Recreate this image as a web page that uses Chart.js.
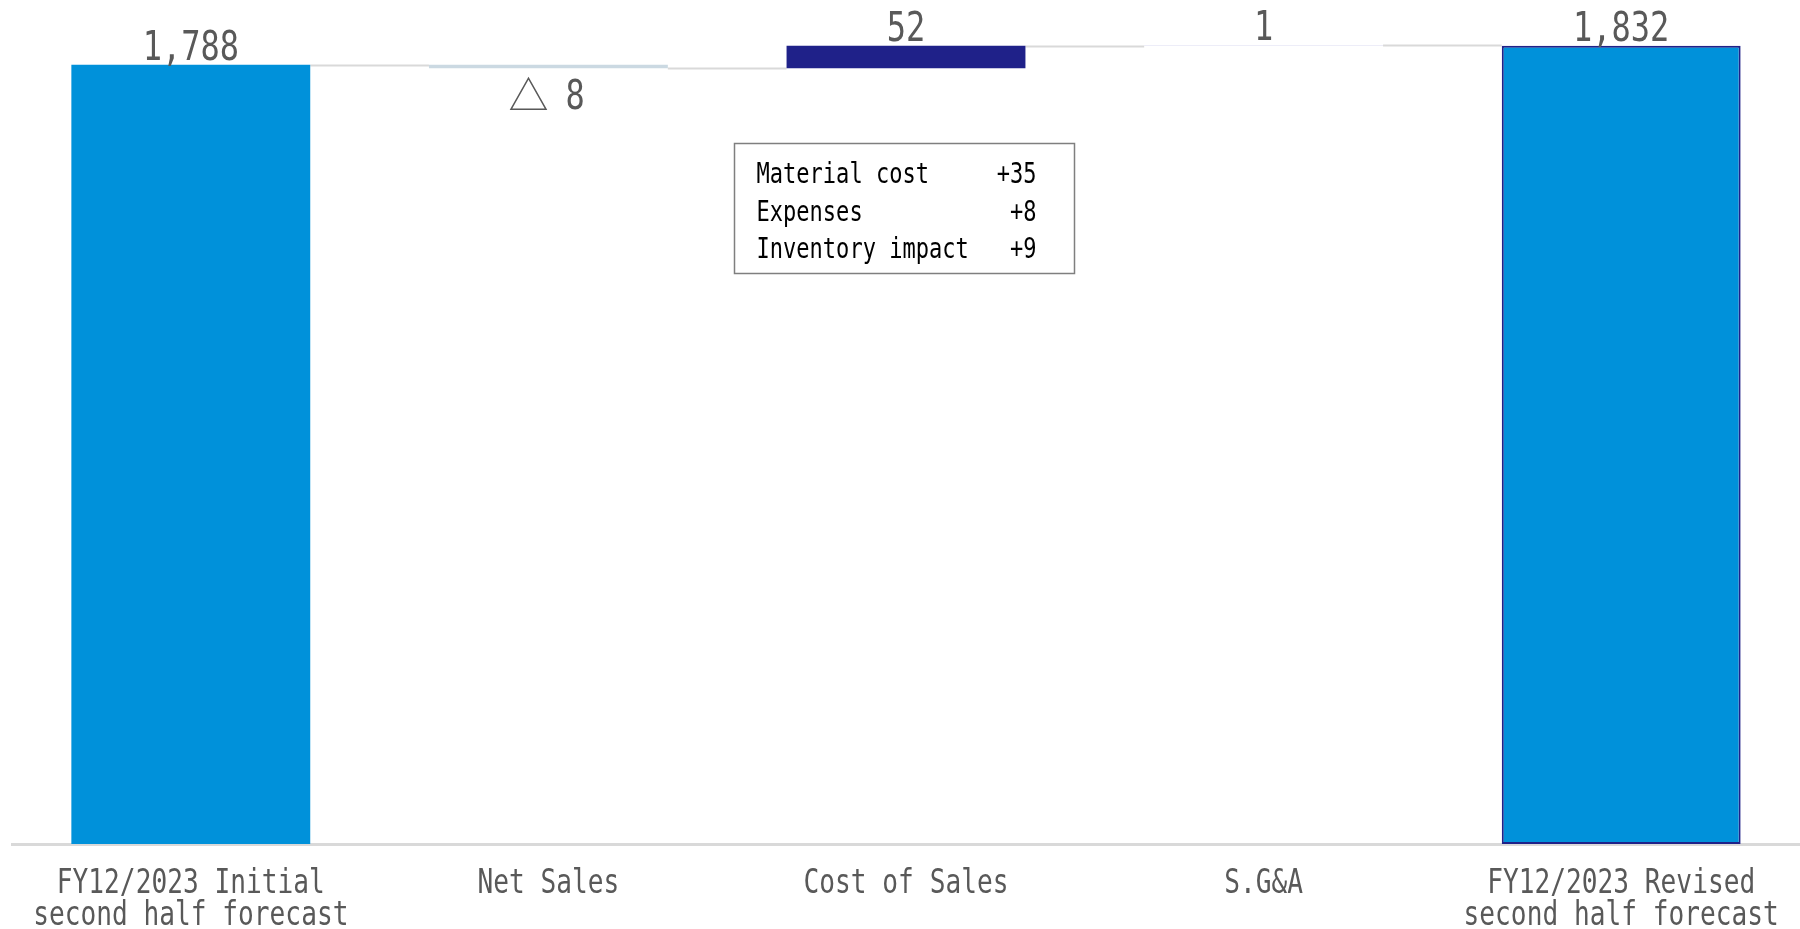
<!DOCTYPE html>
<html>
<head>
<meta charset="utf-8">
<title>Operating income bridge</title>
<script src="https://cdn.jsdelivr.net/npm/chart.js@4.4.1/dist/chart.umd.min.js"></script>
<style>
    html, body { margin: 0; padding: 0; background: #ffffff; }
    #wrap { width: 1800px; height: 929px; }
</style>
</head>
<body>
<div id="wrap"><canvas id="bridgeChart" width="1800" height="929"></canvas></div>
<script>
// Bridge data: totals are absolute, the steps in between are changes
const CATEGORIES = [
    ['FY12/2023 Initial', 'second half forecast'],
    ['Net Sales'],
    ['Cost of Sales'],
    ['S.G&A'],
    ['FY12/2023 Revised', 'second half forecast']
];
const CHANGES = [1788, -8, 52, 1, 1832];
const IS_TOTAL = [true, false, false, false, true];

const BREAKDOWN_ITEMS = ['Material cost', 'Expenses', 'Inventory impact'];
const BREAKDOWN_VALUES = [35, 8, 9];

const Y_MAX = 1900;

const BAR_COLORS = ['#0091da', '#cbd9e2', '#1f2189', '#dcdcf1', '#0091da'];
const BAR_BORDERS = ['#0091da', '#cbd9e2', '#1f2189', '#dcdcf1', '#1f2189'];
const TEXT_GREY = '#595959';
const MONO = '"DejaVu Sans Mono", "Liberation Mono", monospace';
const CJK = '"Noto Sans CJK JP", sans-serif';

// floating [start, end] ranges for each bar
let running = 0;
const ranges = CHANGES.map((v, i) => {
    if (IS_TOTAL[i]) {
        running = v;
        return [0, v];
    }
    const start = running;
    running += v;
    return [start, running];
});

// narrow monospace text, like the gothic half-width face of the slides
function drawNarrow(ctx, text, x, y, size, sx, align, color, family) {
    ctx.save();
    ctx.font = size + 'px ' + (family || MONO);
    ctx.fillStyle = color;
    ctx.textBaseline = 'alphabetic';
    ctx.translate(x, y);
    ctx.scale(sx, 1);
    ctx.textAlign = align;
    ctx.fillText(text, 0, 0);
    ctx.restore();
}

const bridgePlugin = {
    id: 'bridge',
    beforeDatasetsDraw(chart) {
        // connector lines between neighbouring bars
        const ctx = chart.ctx;
        const meta = chart.getDatasetMeta(0);
        const yScale = chart.scales.y;
        ctx.save();
        ctx.strokeStyle = '#d9d9d9';
        ctx.lineWidth = 2;
        for (let i = 0; i < ranges.length - 1; i++) {
            const bar = meta.data[i];
            const next = meta.data[i + 1];
            const y = Math.round(yScale.getPixelForValue(ranges[i][1])) + 0.5;
            ctx.beginPath();
            ctx.moveTo(bar.x + bar.width / 2, y);
            ctx.lineTo(next.x - next.width / 2, y);
            ctx.stroke();
        }
        ctx.restore();
    },
    afterDraw(chart) {
        const ctx = chart.ctx;
        const meta = chart.getDatasetMeta(0);
        const xScale = chart.scales.x;
        const yScale = chart.scales.y;

        // value labels: increases above the bar, decreases below with a triangle
        CHANGES.forEach((v, i) => {
            const bar = meta.data[i];
            const hi = yScale.getPixelForValue(Math.max(ranges[i][0], ranges[i][1]));
            const lo = yScale.getPixelForValue(Math.min(ranges[i][0], ranges[i][1]));
            const text = Math.abs(v).toLocaleString('en-US');
            if (v < 0) {
                drawNarrow(ctx, '\u25B3', bar.x - 20, lo + 42, 40, 1, 'center', TEXT_GREY, CJK);
                drawNarrow(ctx, text, bar.x + 17, lo + 41, 41, 0.78, 'left', TEXT_GREY);
            } else {
                drawNarrow(ctx, text, bar.x, hi - 5, 41, 0.78, 'center', TEXT_GREY);
            }
        });

        // category labels under the baseline
        CATEGORIES.forEach((lines, i) => {
            const x = xScale.getPixelForTick(i);
            lines.forEach((line, j) => {
                drawNarrow(ctx, line, x, 893 + j * 32, 34, 0.77, 'center', TEXT_GREY);
            });
        });

        // breakdown box for cost of sales
        const cx = xScale.getPixelForTick(2);
        const left = Math.round(cx - 172) + 0.5;
        const top = 143.5;
        ctx.save();
        ctx.fillStyle = '#ffffff';
        ctx.fillRect(left, top, 340, 130);
        ctx.strokeStyle = '#7f7f7f';
        ctx.lineWidth = 1.5;
        ctx.strokeRect(left, top, 340, 130);
        ctx.restore();
        BREAKDOWN_ITEMS.forEach((item, j) => {
            const y = 183 + j * 37.5;
            drawNarrow(ctx, item, left + 22, y, 29, 0.76, 'left', '#000000');
            drawNarrow(ctx, '+' + BREAKDOWN_VALUES[j], left + 302, y, 29, 0.76, 'right', '#000000');
        });
    }
};

new Chart(document.getElementById('bridgeChart'), {
    type: 'bar',
    data: {
        labels: CATEGORIES,
        datasets: [{
            data: ranges,
            backgroundColor: BAR_COLORS,
            borderColor: BAR_BORDERS,
            borderWidth: [0, 0, 0, 0, 2],
            borderSkipped: false,
            barPercentage: 0.668,
            categoryPercentage: 1.0
        }]
    },
    options: {
        responsive: false,
        animation: false,
        layout: {
            padding: { left: 12, right: 0, top: 16, bottom: 85 }
        },
        plugins: {
            legend: { display: false },
            tooltip: { enabled: false }
        },
        scales: {
            x: {
                grid: { display: false, drawTicks: false },
                ticks: { display: false },
                border: { display: true, color: '#d9d9d9', width: 3 }
            },
            y: {
                display: false,
                min: 0,
                max: Y_MAX
            }
        }
    },
    plugins: [bridgePlugin]
});
</script>
</body>
</html>
